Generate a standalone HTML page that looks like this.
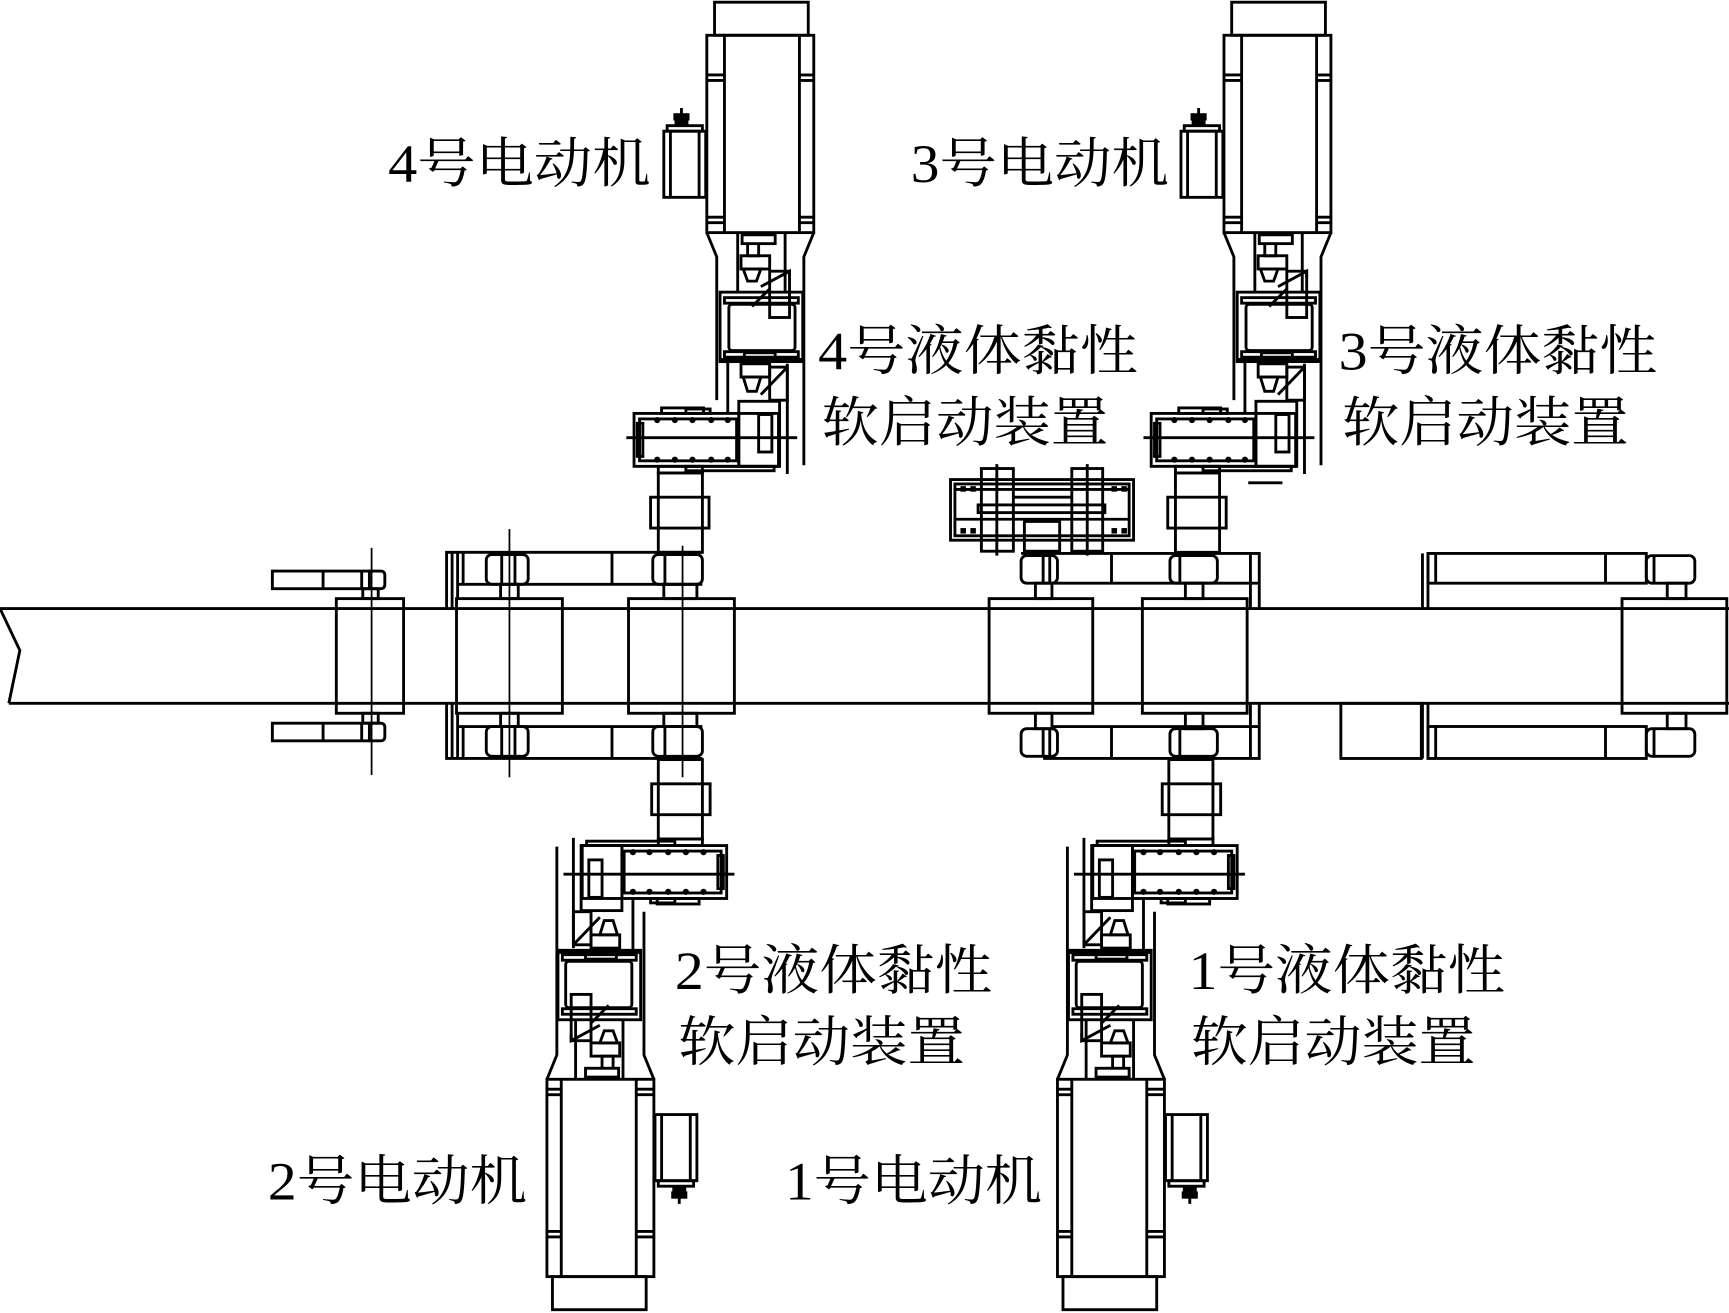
<!DOCTYPE html>
<html><head><meta charset="utf-8"><style>
html,body{margin:0;padding:0;background:#fff;width:1729px;height:1313px;overflow:hidden}
svg{display:block}
text{font-family:"Liberation Serif","Noto Serif CJK SC",serif;font-size:49px;fill:#000}
</style></head><body>
<svg width="1729" height="1313" viewBox="0 0 1568 1191" preserveAspectRatio="none" xmlns="http://www.w3.org/2000/svg">
<defs>
<g id="u" fill="none" stroke="#000" stroke-width="2.6">
  <rect x="648" y="2" width="85" height="30"/>
  <rect x="641" y="32" width="97" height="179"/>
  <line x1="657" y1="32" x2="657" y2="211"/><line x1="725" y1="32" x2="725" y2="211"/>
  <line x1="641" y1="68" x2="657" y2="68"/><line x1="641" y1="73" x2="657" y2="73"/>
  <line x1="725" y1="68" x2="738" y2="68"/><line x1="725" y1="73" x2="738" y2="73"/>
  <line x1="641" y1="197" x2="657" y2="197"/><line x1="641" y1="202" x2="657" y2="202"/>
  <line x1="725" y1="197" x2="738" y2="197"/><line x1="725" y1="202" x2="738" y2="202"/>
  <rect x="602" y="119" width="38" height="60"/>
  <line x1="608" y1="119" x2="608" y2="179"/><line x1="634" y1="119" x2="634" y2="179"/>
  <rect x="605" y="114" width="32" height="5"/>
  <rect x="612" y="104" width="12" height="4" fill="#000"/><rect x="613" y="109" width="10" height="4" fill="#000"/>
  <line x1="618" y1="98" x2="618" y2="104"/>
  <path d="M641 211 L650 233 L650 363"/>
  <path d="M738 211 L729 233 L729 422"/>
  <line x1="669" y1="211" x2="669" y2="265"/><line x1="712" y1="211" x2="712" y2="265"/>
  <rect x="673" y="213" width="30" height="8"/>
  <path d="M678 221 L678 232 L688 232 L688 221"/>
  <rect x="672" y="232" width="26" height="12"/>
  <path d="M674 244 L690 244 L686 255 L678 255 Z"/>
  <path d="M690 260 L716 246 L716 253"/>
  <rect x="698" y="246" width="18" height="42"/>
  <line x1="698" y1="262" x2="682" y2="278"/>
  <rect x="653" y="265" width="75" height="63"/>
  <rect x="657" y="270" width="67" height="5"/>
  <rect x="661" y="276" width="60" height="42" rx="3"/>
  <rect x="657" y="319" width="67" height="5"/>
  <line x1="653" y1="326" x2="728" y2="326"/>
  <rect x="675" y="320" width="28" height="5"/>
  <rect x="672" y="330" width="26" height="12"/>
  <path d="M674 342 L690 342 L686 355 L678 355 Z"/>
  <rect x="698" y="333" width="16" height="30"/>
  <line x1="714" y1="333" x2="690" y2="358"/>
  <line x1="660" y1="328" x2="660" y2="375"/>
  <rect x="670" y="364" width="37" height="59"/>
  <rect x="688" y="376" width="12" height="34"/>
  <line x1="714" y1="330" x2="714" y2="430"/>
  <rect x="575" y="375" width="131" height="48"/>
  <rect x="580" y="380" width="88" height="38"/>
  <line x1="670" y1="375" x2="670" y2="423"/>
  <rect x="578" y="384" width="5" height="30"/>
  <line x1="568" y1="397" x2="723" y2="397"/>
  <g fill="#000" stroke="none">
    <circle cx="596" cy="381" r="2.8"/><circle cx="612" cy="381" r="2.8"/><circle cx="628" cy="381" r="2.8"/><circle cx="645" cy="381" r="2.8"/><circle cx="660" cy="381" r="2.8"/>
    <circle cx="596" cy="417" r="2.8"/><circle cx="612" cy="417" r="2.8"/><circle cx="628" cy="417" r="2.8"/><circle cx="645" cy="417" r="2.8"/><circle cx="660" cy="417" r="2.8"/>
  </g>
  <rect x="600" y="370" width="38" height="5"/>
  <rect x="622" y="371" width="22" height="4"/>
  <rect x="622" y="423" width="80" height="4"/>
  <rect x="597" y="423" width="40" height="6"/>
  <rect x="597" y="429" width="40" height="72"/>
  <rect x="590" y="451" width="53" height="28"/>
</g>
</defs>

<g fill="none" stroke="#000" stroke-width="2.6">
  <path d="M0 552 L1568 552 M8 638 L1568 638 M0 552 L18 590 L8 638"/>
  <rect x="305" y="543" width="61" height="104"/>
  <rect x="414" y="543" width="96" height="104"/>
  <rect x="570" y="543" width="96" height="104"/>
  <rect x="897" y="543" width="94" height="104"/>
  <rect x="1036" y="543" width="95" height="104"/>
  <rect x="1471" y="543" width="95" height="104"/>
  <rect x="247" y="518" width="88" height="16"/>
  <line x1="293" y1="518" x2="293" y2="534"/><line x1="328" y1="518" x2="328" y2="534"/>
  <path d="M335 518 L345 518 Q349 518 349 522 L349 530 Q349 534 345 534 L335 534"/>
  <rect x="329" y="534" width="14" height="9"/>
  <rect x="247" y="656" width="88" height="16"/>
  <line x1="293" y1="656" x2="293" y2="672"/><line x1="328" y1="656" x2="328" y2="672"/>
  <path d="M335 656 L345 656 Q349 656 349 660 L349 668 Q349 672 345 672 L335 672"/>
  <rect x="329" y="647" width="14" height="9"/>
  <line x1="337" y1="497" x2="337" y2="703" stroke-width="1.6"/>
  <path d="M405 552 L405 501 L637 501"/>
  <line x1="410" y1="501" x2="410" y2="552"/><line x1="415" y1="501" x2="415" y2="543"/>
  <line x1="415" y1="530" x2="637" y2="530"/>
  <line x1="420" y1="501" x2="420" y2="530"/>
  <rect x="441" y="503" width="38" height="27" rx="5"/>
  <line x1="455" y1="503" x2="455" y2="530"/><line x1="467" y1="503" x2="467" y2="530"/>
  <line x1="555" y1="501" x2="555" y2="530"/>
  <rect x="592" y="503" width="45" height="27" rx="5"/>
  <line x1="603" y1="503" x2="603" y2="530"/>
  <rect x="454" y="530" width="16" height="13"/>
  <rect x="602" y="530" width="30" height="13"/>
  <path d="M405 638 L405 688 L637 688"/>
  <line x1="410" y1="638" x2="410" y2="688"/><line x1="415" y1="647" x2="415" y2="688"/>
  <line x1="415" y1="659" x2="637" y2="659"/>
  <line x1="420" y1="659" x2="420" y2="688"/>
  <rect x="441" y="659" width="38" height="27" rx="5"/>
  <line x1="455" y1="659" x2="455" y2="686"/><line x1="467" y1="659" x2="467" y2="686"/>
  <line x1="555" y1="659" x2="555" y2="688"/>
  <rect x="592" y="659" width="45" height="27" rx="5"/>
  <line x1="603" y1="659" x2="603" y2="686"/>
  <rect x="454" y="647" width="16" height="12"/>
  <rect x="602" y="647" width="30" height="12"/>
  <line x1="462" y1="480" x2="462" y2="705" stroke-width="1.6"/>
  <line x1="619" y1="495" x2="619" y2="705" stroke-width="1.6"/>
  <path d="M926 502 L1142 502 L1142 552"/>
  <line x1="1134" y1="502" x2="1134" y2="552"/>
  <line x1="955" y1="529" x2="1142" y2="529"/>
  <rect x="926" y="504" width="33" height="25" rx="5"/>
  <line x1="946" y1="504" x2="946" y2="529"/><line x1="952" y1="504" x2="952" y2="529"/>
  <line x1="1008" y1="502" x2="1008" y2="529"/>
  <rect x="1061" y="504" width="43" height="25" rx="5"/>
  <line x1="1070" y1="504" x2="1070" y2="529"/>
  <rect x="939" y="529" width="15" height="14"/>
  <rect x="1075" y="529" width="16" height="14"/>
  <path d="M946 688 L1142 688 L1142 638"/>
  <line x1="1134" y1="638" x2="1134" y2="688"/>
  <line x1="955" y1="659" x2="1142" y2="659"/>
  <rect x="926" y="661" width="33" height="25" rx="5"/>
  <line x1="946" y1="661" x2="946" y2="686"/><line x1="952" y1="661" x2="952" y2="686"/>
  <line x1="1008" y1="659" x2="1008" y2="688"/>
  <rect x="1061" y="661" width="43" height="25" rx="5"/>
  <line x1="1070" y1="661" x2="1070" y2="686"/>
  <rect x="939" y="647" width="15" height="14"/>
  <rect x="1075" y="647" width="16" height="14"/>
  <line x1="1290" y1="502" x2="1290" y2="552"/><line x1="1295" y1="502" x2="1295" y2="552"/>
  <rect x="1295" y="502" width="198" height="27"/>
  <line x1="1302" y1="502" x2="1302" y2="529"/>
  <line x1="1456" y1="502" x2="1456" y2="529"/>
  <rect x="1493" y="504" width="44" height="25" rx="5"/>
  <line x1="1500" y1="504" x2="1500" y2="529"/>
  <rect x="1512" y="529" width="17" height="14"/>
  <rect x="1216" y="638" width="73" height="50"/>
  <line x1="1290" y1="638" x2="1290" y2="688"/><line x1="1295" y1="638" x2="1295" y2="688"/>
  <rect x="1295" y="659" width="198" height="29"/>
  <line x1="1302" y1="659" x2="1302" y2="688"/>
  <line x1="1456" y1="659" x2="1456" y2="688"/>
  <rect x="1493" y="661" width="44" height="25" rx="5"/>
  <line x1="1500" y1="661" x2="1500" y2="686"/>
  <rect x="1512" y="647" width="17" height="14"/>
  <rect x="862" y="435" width="166" height="55"/>
  <rect x="866" y="439" width="158" height="47"/>
  <line x1="866" y1="444" x2="1024" y2="444"/><line x1="866" y1="471" x2="1024" y2="471"/>
  <line x1="919" y1="451" x2="972" y2="451"/>
  <rect x="890" y="425" width="29" height="75"/>
  <rect x="972" y="425" width="28" height="75"/>
  <line x1="904" y1="421" x2="904" y2="504"/><line x1="986" y1="421" x2="986" y2="504"/>
  <rect x="887" y="458" width="115" height="7"/>
  <rect x="929" y="473" width="32" height="27"/>
  <g fill="#000" stroke="none">
    <rect x="871" y="441" width="5" height="5"/><rect x="880" y="441" width="5" height="5"/><rect x="1008" y="441" width="5" height="5"/><rect x="1017" y="441" width="5" height="5"/>
    <rect x="871" y="479" width="5" height="5"/><rect x="880" y="479" width="5" height="5"/><rect x="1008" y="479" width="5" height="5"/><rect x="1017" y="479" width="5" height="5"/>
  </g>
  <line x1="1132" y1="438" x2="1163" y2="438"/>
</g>

<use href="#u"/>
<use href="#u" transform="translate(469,0)"/>
<use href="#u" transform="rotate(180 617 595)"/>
<use href="#u" transform="rotate(180 1083 595) translate(469,0)"/>

<text x="352" y="165" textLength="238" lengthAdjust="spacingAndGlyphs">4号电动机</text>
<text x="826" y="165" textLength="234" lengthAdjust="spacingAndGlyphs">3号电动机</text>
<text x="742" y="335" textLength="290" lengthAdjust="spacingAndGlyphs">4号液体黏性</text>
<text x="745" y="400" textLength="260" lengthAdjust="spacingAndGlyphs">软启动装置</text>
<text x="1214" y="335" textLength="289" lengthAdjust="spacingAndGlyphs">3号液体黏性</text>
<text x="1217" y="400" textLength="260" lengthAdjust="spacingAndGlyphs">软启动装置</text>
<text x="612" y="897" textLength="288" lengthAdjust="spacingAndGlyphs">2号液体黏性</text>
<text x="615" y="962" textLength="260" lengthAdjust="spacingAndGlyphs">软启动装置</text>
<text x="1078" y="897" textLength="287" lengthAdjust="spacingAndGlyphs">1号液体黏性</text>
<text x="1080" y="962" textLength="258" lengthAdjust="spacingAndGlyphs">软启动装置</text>
<text x="243" y="1088" textLength="235" lengthAdjust="spacingAndGlyphs">2号电动机</text>
<text x="712" y="1088" textLength="233" lengthAdjust="spacingAndGlyphs">1号电动机</text>
</svg>
</body></html>
